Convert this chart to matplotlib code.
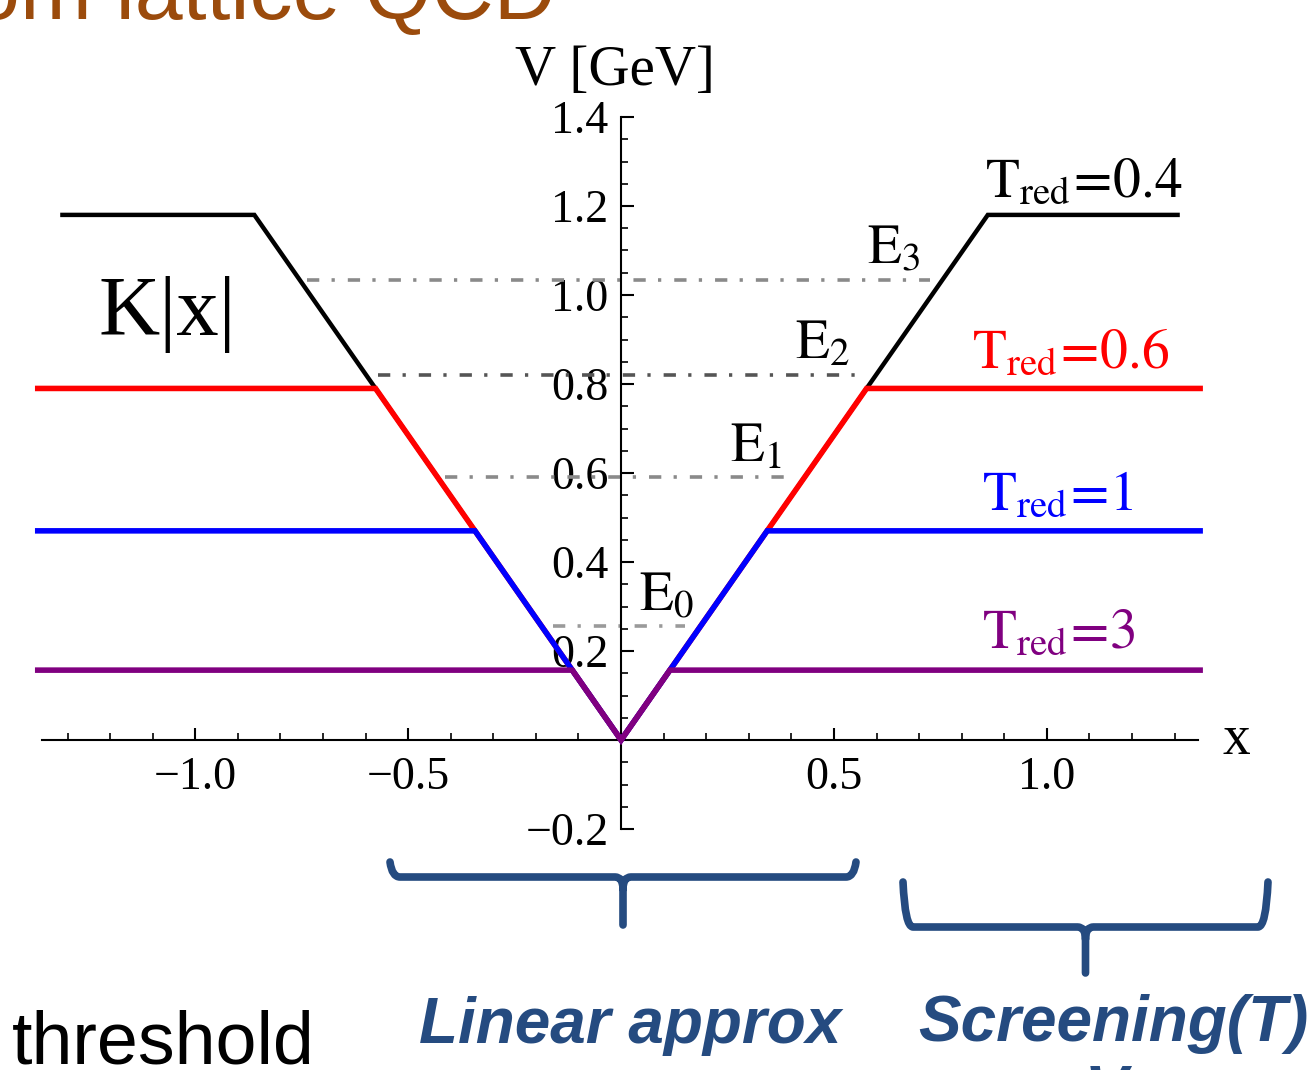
import numpy as np
import matplotlib
matplotlib.use("Agg")
import matplotlib.pyplot as plt
from matplotlib.path import Path
from matplotlib.patches import PathPatch
from matplotlib.ticker import FixedLocator, FuncFormatter

# --- data ---
K = 1.37                                   # slope of K|x| (GeV per unit x)
t_red = ["0.4", "0.6", "1", "3"]
v_max = [1.18, 0.79, 0.47, 0.157]          # plateau value of each screened potential
x_left = [-1.312, -1.37, -1.37, -1.37]
x_right = [1.307, 1.36, 1.36, 1.36]
line_colors = ["black", "#ff0000", "#0000ff", "#800080"]
line_widths = [3.2, 4.0, 4.0, 4.0]

e_names = ["0", "1", "2", "3"]
e_levels = [0.256, 0.591, 0.820, 1.034]
e_xmin = [-0.160, -0.413, -0.570, -0.737]
e_xmax = [0.150, 0.408, 0.573, 0.725]
e_colors = ["#9a9a9a", "#8a8a8a", "#555555", "#8a8a8a"]

x_major = [-1.0, -0.5, 0.5, 1.0]
y_major = [-0.2, 0.2, 0.4, 0.6, 0.8, 1.0, 1.2, 1.4]

W, H = 1310, 1070
plt.rcParams['font.family'] = ['Liberation Serif', 'DejaVu Serif']
plt.rcParams['mathtext.fontset'] = 'stix'

fig = plt.figure(figsize=(W / 100, H / 100), dpi=100)
ax = fig.add_axes([42 / W, 1 - 829 / H, (1198 - 42) / W, (829 - 117) / H])
ax.set_xlim(-1.36, 1.355)
ax.set_ylim(-0.2, 1.4)

# axes through the origin, Mathematica style
for s in ['top', 'right']:
    ax.spines[s].set_visible(False)
ax.spines['left'].set_position(('data', 0))
ax.spines['bottom'].set_position(('data', 0))
for s in ['left', 'bottom']:
    ax.spines[s].set_linewidth(1.5)

ax.xaxis.set_major_locator(FixedLocator(x_major))
ax.xaxis.set_minor_locator(FixedLocator(np.round(np.arange(-1.3, 1.31, 0.1), 2)))
ax.yaxis.set_major_locator(FixedLocator(y_major))
ax.yaxis.set_minor_locator(FixedLocator(np.round(np.arange(-0.15, 1.4, 0.05), 3)))
fmt = FuncFormatter(lambda v, p: f"{v:.1f}".replace('-', '\u2212'))
ax.xaxis.set_major_formatter(fmt)
ax.yaxis.set_major_formatter(fmt)
ax.tick_params(which='major', direction='in', length=9, width=1.5, labelsize=33)
ax.tick_params(which='minor', direction='in', length=5, width=1.2)
ax.tick_params(axis='x', pad=12)
ax.tick_params(axis='y', pad=9)

# energy levels
for e, lo, hi, c in zip(e_levels, e_xmin, e_xmax, e_colors):
    ax.plot([lo, hi], [e, e], color=c, lw=2.6, dashes=(3.4, 3.4, 0.9, 3.6), zorder=2)

# screened linear potentials V = min(K|x|, Vmax)
for vm, xl, xr, c, lw in zip(v_max, x_left, x_right, line_colors, line_widths):
    xc = vm / K
    ax.plot([xl, -xc, 0, xc, xr], [vm, vm, 0, vm, vm], color=c, lw=lw,
            solid_joinstyle='miter', zorder=3, clip_on=False)

# labels inside the plot
ax.text(-0.014, 1.472, "V [GeV]", fontsize=41, ha='center', va='baseline', clip_on=False)
ax.text(1.444, 0.0, "x", fontsize=40, ha='center', va='center', clip_on=False)
ax.text(-1.228, 0.910, "K|x|", fontsize=61, ha='left', va='baseline')

e_pos = [(0.042, 0.292), (0.256, 0.625), (0.408, 0.858), (0.577, 1.072)]
for n, (ex, ey) in zip(e_names, e_pos):
    ax.text(ex, ey, rf"$\mathrm{{E}}_{{{n}}}$", fontsize=40, ha='left', va='baseline')

t_pos = [(0.855, 1.222), (0.824, 0.838), (0.847, 0.517), (0.847, 0.207)]
for t, (tx, ty), c in zip(t_red, t_pos, line_colors):
    ax.text(tx, ty, rf"$\mathrm{{T}}_{{\mathrm{{red}}}}\!=\!\mathrm{{{t}}}$", fontsize=40,
            color=c, ha='left', va='baseline', clip_on=False)

# --- slide decorations around the plot ---
def fx(px):
    return px / W

def fy(py):
    return 1 - py / H

def brace(x0, x1, ytop, ybar, ytip, color):
    xc = (x0 + x1) / 2
    verts = [(x0, ytop), (x0 + 2, ybar), (x0 + 10, ybar),
             (xc - 8, ybar), (xc, ybar), (xc, ybar + 12),
             (xc, ytip),
             (xc, ybar + 12), (xc, ybar), (xc + 8, ybar),
             (x1 - 10, ybar), (x1 - 2, ybar), (x1, ytop)]
    codes = [Path.MOVETO, Path.CURVE3, Path.CURVE3,
             Path.LINETO, Path.CURVE3, Path.CURVE3,
             Path.LINETO,
             Path.MOVETO, Path.CURVE3, Path.CURVE3,
             Path.LINETO, Path.CURVE3, Path.CURVE3]
    verts = [(fx(a), fy(b)) for a, b in verts]
    fig.add_artist(PathPatch(Path(verts, codes), fill=False, edgecolor=color, lw=5.5,
                             capstyle='round', joinstyle='round',
                             transform=fig.transFigure))

navy = "#254b80"
brace(390, 856, 862, 877, 925, navy)
brace(903, 1268, 882, 927, 973, navy)

fig.text(fx(556), fy(19), "om lattice QCD", fontsize=62, color="#9b4b0c",
         family="Liberation Sans", ha='right', va='baseline')
fig.text(fx(12), fy(1063), "threshold", fontsize=53, color="black",
         family="Liberation Sans", ha='left', va='baseline')
fig.text(fx(630), fy(1043), "Linear approx", fontsize=46, color=navy,
         family="Liberation Sans", weight='bold', style='italic', ha='center', va='baseline')
fig.text(fx(1113), fy(1041), "Screening(T)", fontsize=46, color=navy,
         family="Liberation Sans", weight='bold', style='italic', ha='center', va='baseline')
fig.text(fx(1110), fy(1112), r"as V$_{\mathrm{QCD}}$", fontsize=46, color=navy,
         family="Liberation Sans", weight='bold', style='italic', ha='center', va='baseline')

fig.savefig("out.png", dpi=100, facecolor='white')
